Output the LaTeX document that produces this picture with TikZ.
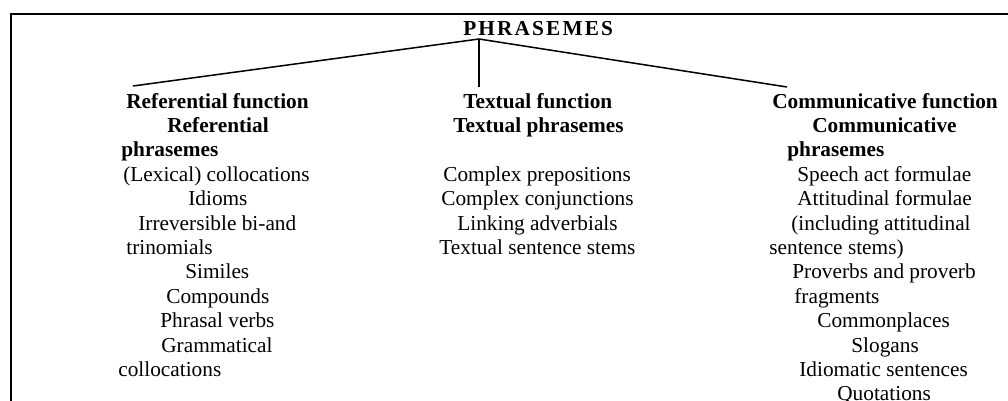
\documentclass[tikz,border=0pt]{standalone}
\usepackage{fontspec}
\setmainfont{Liberation Serif}
\usetikzlibrary{positioning}
\tikzset{frame/.style={draw, line width=1.1pt}}
\tikzset{branch/.style={draw, line width=0.85pt}}
\tikzset{stem/.style={draw, line width=0.6pt}}
\tikzset{entry/.style={inner sep=0pt, anchor=base west, font=\fontsize{12}{13.8}\selectfont}}
\tikzset{head/.style={entry, font=\fontsize{12}{13.8}\selectfont\bfseries}}
\newcommand\rowy[1]{108+24.4*#1}

\begin{document}
\begin{tikzpicture}[x=0.5634pt, y=-0.5634pt]
    \useasboundingbox (0,0) rectangle (1008,401);
    \draw[frame] (11,401) -- (11,14) -- (1008,14);

    \node[head, font=\fontsize{12}{13.8}\selectfont\bfseries\addfontfeatures{LetterSpace=10}] (top) at (463,35) {PHRASEMES};
    \coordinate (apex) at (479,39);
    \coordinate (refend) at (133,86);
    \coordinate (txtend) at (479,87);
    \coordinate (comend) at (787,87);

    \draw[branch] (refend) -- (apex) -- (comend);
    \draw[stem] (apex) -- (txtend);

    % function headings
    \node[head] (reffun) at (126,{\rowy{0}}) {Referential function};
    \node[head] (txtfun) at (463,{\rowy{0}}) {Textual function};
    \node[head] (comfun) at (772,{\rowy{0}}) {Communicative function};

    % referential column
    \node[head] (refa) at (167,{\rowy{1}}) {Referential};
    \node[head] (refb) at (121,{\rowy{2}}) {phrasemes};
    \foreach \x/\r/\t [count=\i] in {123/3/{(Lexical) collocations}, 188/4/Idioms,
        138/5/{Irreversible bi-and}, 126/6/trinomials, 185/7/Similes, 166/8/Compounds,
        160/9/{Phrasal verbs}, 161/10/Grammatical, 118/11/collocations}
        \node[entry] (ref\i) at (\x,{\rowy{\r}}) {\t};

    % textual column
    \node[head] (txta) at (453,{\rowy{1}}) {Textual phrasemes};
    \foreach \x/\r/\t [count=\i] in {443/3/{Complex prepositions}, 441/4/{Complex conjunctions},
        457/5/{Linking adverbials}, 439/6/{Textual sentence stems}}
        \node[entry] (txt\i) at (\x,{\rowy{\r}}) {\t};

    % communicative column
    \node[head] (coma) at (812,{\rowy{1}}) {Communicative};
    \node[head] (comb) at (787,{\rowy{2}}) {phrasemes};
    \foreach \x/\r/\t [count=\i] in {797/3/{Speech act formulae}, 797/4/{Attitudinal formulae},
        791/5/{(including attitudinal}, 769/6/{sentence stems)}, 792/7/{Proverbs and proverb},
        794/8/fragments, 817/9/Commonplaces, 851/10/Slogans, 799/11/{Idiomatic sentences},
        837/12/Quotations}
        \node[entry] (com\i) at (\x,{\rowy{\r}}) {\t};
\end{tikzpicture}
\end{document}
